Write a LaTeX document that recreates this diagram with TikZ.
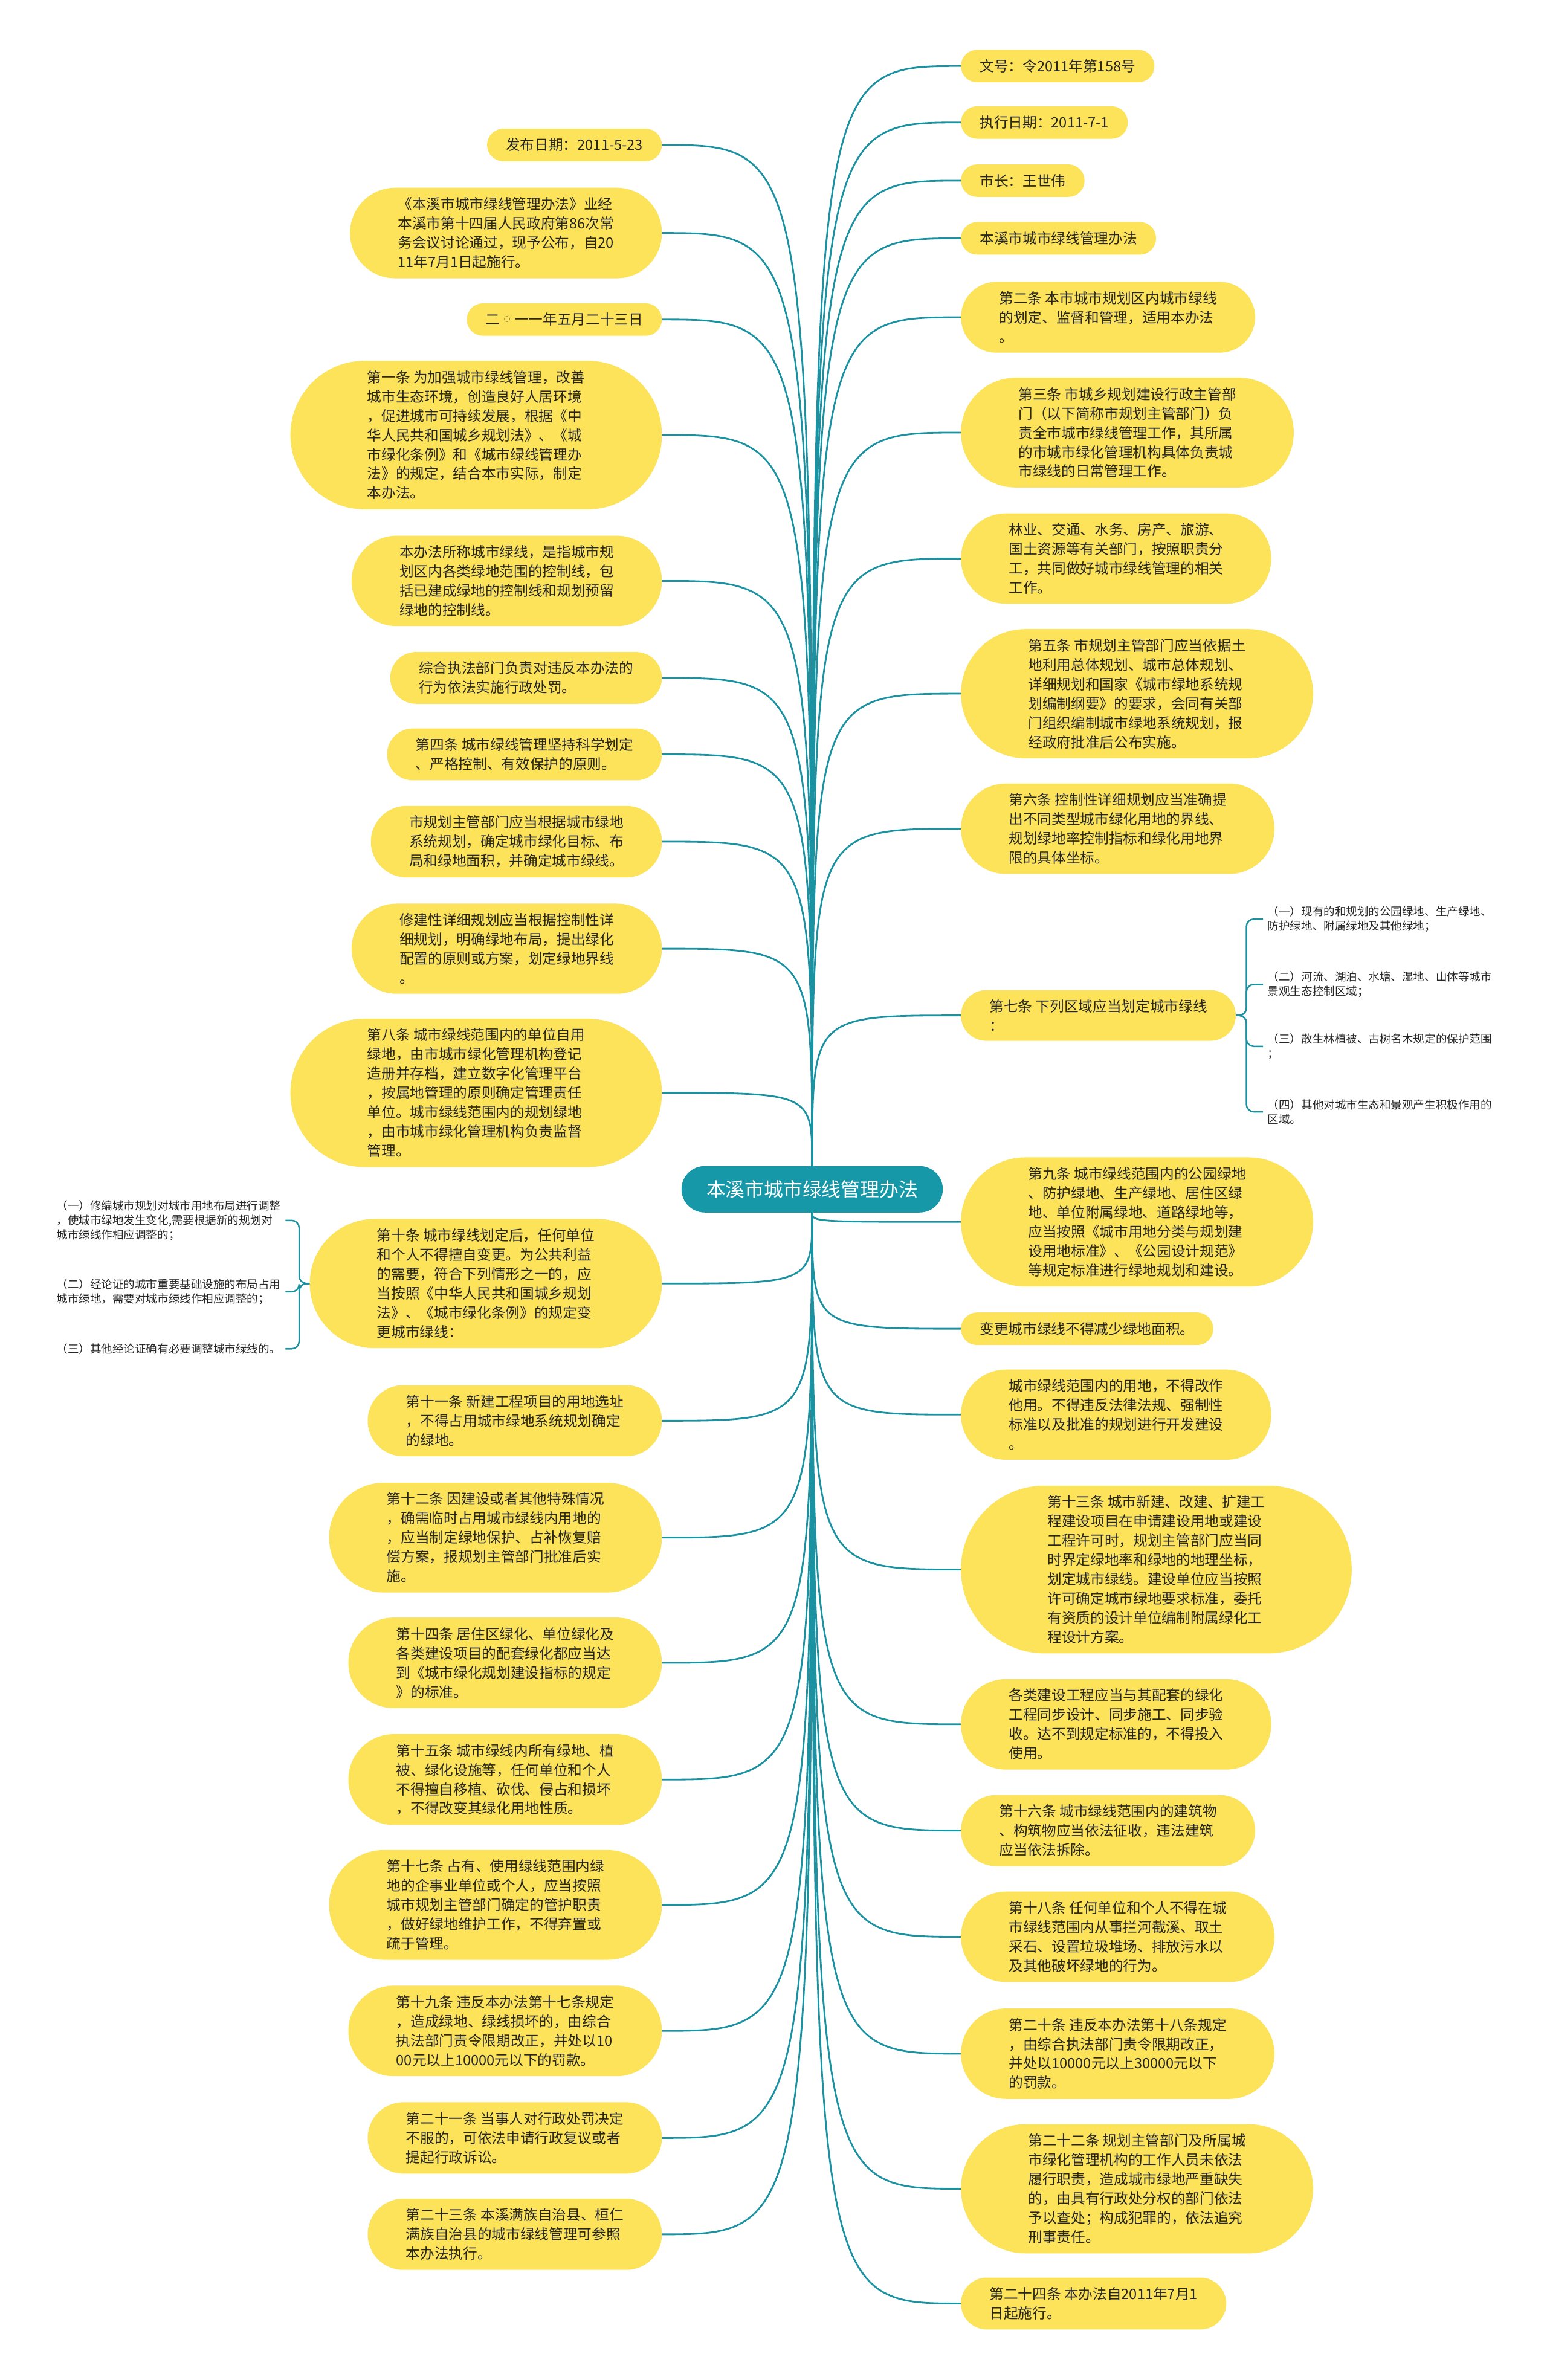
\documentclass[tikz,border=0pt]{standalone}
\usepackage{fontspec}
\setmainfont{Noto Sans CJK SC}
\usetikzlibrary{backgrounds,calc}
\definecolor{ylw}{HTML}{FCE35A}
\definecolor{rootC}{HTML}{1798A8}
\definecolor{lineC}{HTML}{1A92A2}
\definecolor{txt}{HTML}{262626}
\newcommand{\smallzero}{\makebox[6.7pt]{\raisebox{1.4pt}{\fontsize{3pt}{4pt}\selectfont ○}}}
\begin{document}
\begin{tikzpicture}[x=0.025cm,y=-0.025cm,
 leaf/.style={shape=rectangle, draw=none, text=txt, align=left, inner ysep=4.3pt, inner xsep={4.525pt*#1+4.125pt}, font=\fontsize{6.7pt}{9.05pt}\selectfont},
 lft/.style={leaf=#1, anchor=east},
 rgt/.style={leaf=#1, anchor=west},
 rootnode/.style={shape=rectangle, text=white, inner xsep=11.5pt, inner ysep=6.5pt, font=\fontsize{9pt}{11pt}\selectfont},
 sub/.style={align=left, text=txt, inner xsep=2pt, inner ysep=1pt, font=\fontsize{5.25pt}{6.85pt}\selectfont},
 conn/.style={draw=lineC, line width=0.8pt},
 bconn/.style={draw=lineC, line width=0.7pt, rounded corners=3.5pt}]
\useasboundingbox (0,0) rectangle (1019,1568);

\node[rootnode] (root) at (535,783.5) {本溪市城市绿线管理办法};

% right side
\node[rgt=1] (r1) at (633,43.5) {文号：令2011年第158号};
\node[rgt=1] (r2) at (633,80.7) {执行日期：2011-7-1};
\node[rgt=1] (r3) at (633,119) {市长：王世伟};
\node[rgt=1] (r4) at (633,157) {本溪市城市绿线管理办法};
\node[rgt=3] (r5) at (633,209) {第二条 本市城市规划区内城市绿线\\的划定、监督和管理，适用本办法\\。};
\node[rgt=5] (r6) at (633,285) {第三条 市城乡规划建设行政主管部\\门（以下简称市规划主管部门）负\\责全市城市绿线管理工作，其所属\\的市城市绿化管理机构具体负责城\\市绿线的日常管理工作。};
\node[rgt=4] (r7) at (633,368) {林业、交通、水务、房产、旅游、\\国土资源等有关部门，按照职责分\\工，共同做好城市绿线管理的相关\\工作。};
\node[rgt=6] (r8) at (633,457) {第五条 市规划主管部门应当依据土\\地利用总体规划、城市总体规划、\\详细规划和国家《城市绿地系统规\\划编制纲要》的要求，会同有关部\\门组织编制城市绿地系统规划，报\\经政府批准后公布实施。};
\node[rgt=4] (r9) at (633,546) {第六条 控制性详细规划应当准确提\\出不同类型城市绿化用地的界线、\\规划绿地率控制指标和绿化用地界\\限的具体坐标。};
\node[rgt=2] (r10) at (633,669) {第七条 下列区域应当划定城市绿线\\：};
\node[rgt=6] (r11) at (633,805) {第九条 城市绿线范围内的公园绿地\\、防护绿地、生产绿地、居住区绿\\地、单位附属绿地、道路绿地等，\\应当按照《城市用地分类与规划建\\设用地标准》、《公园设计规范》\\等规定标准进行绿地规划和建设。};
\node[rgt=1] (r12) at (633,875.4) {变更城市绿线不得减少绿地面积。};
\node[rgt=4] (r13) at (633,932) {城市绿线范围内的用地，不得改作\\他用。不得违反法律法规、强制性\\标准以及批准的规划进行开发建设\\。};
\node[rgt=8] (r14) at (633,1034) {第十三条 城市新建、改建、扩建工\\程建设项目在申请建设用地或建设\\工程许可时，规划主管部门应当同\\时界定绿地率和绿地的地理坐标，\\划定城市绿线。建设单位应当按照\\许可确定城市绿地要求标准，委托\\有资质的设计单位编制附属绿化工\\程设计方案。};
\node[rgt=4] (r15) at (633,1136) {各类建设工程应当与其配套的绿化\\工程同步设计、同步施工、同步验\\收。达不到规定标准的，不得投入\\使用。};
\node[rgt=3] (r16) at (633,1206) {第十六条 城市绿线范围内的建筑物\\、构筑物应当依法征收，违法建筑\\应当依法拆除。};
\node[rgt=4] (r17) at (633,1276) {第十八条 任何单位和个人不得在城\\市绿线范围内从事拦河截溪、取土\\采石、设置垃圾堆场、排放污水以\\及其他破坏绿地的行为。};
\node[rgt=4] (r18) at (633,1353) {第二十条 违反本办法第十八条规定\\，由综合执法部门责令限期改正，\\并处以10000元以上30000元以下\\的罚款。};
\node[rgt=6] (r19) at (633,1442) {第二十二条 规划主管部门及所属城\\市绿化管理机构的工作人员未依法\\履行职责，造成城市绿地严重缺失\\的，由具有行政处分权的部门依法\\予以查处；构成犯罪的，依法追究\\刑事责任。};
\node[rgt=2] (r20) at (633,1517.6) {第二十四条 本办法自2011年7月1\\日起施行。};

% children of r10
\node[sub, anchor=west] (r10a) at (832,605.5) {（一）现有的和规划的公园绿地、生产绿地、\\防护绿地、附属绿地及其他绿地；};
\node[sub, anchor=west] (r10b) at (832,648.6) {（二）河流、湖泊、水塘、湿地、山体等城市\\景观生态控制区域；};
\node[sub, anchor=west] (r10c) at (832,689.4) {（三）散生林植被、古树名木规定的保护范围\\；};
\node[sub, anchor=west] (r10d) at (832,732.5) {（四）其他对城市生态和景观产生积极作用的\\区域。};

% left side
\node[lft=1] (l1) at (436,95.5) {发布日期：2011-5-23};
\node[lft=4] (l2) at (436,153.5) {《本溪市城市绿线管理办法》业经\\本溪市第十四届人民政府第86次常\\务会议讨论通过，现予公布，自20\\11年7月1日起施行。};
\node[lft=1] (l3) at (436,210.5) {二\smallzero 一一年五月二十三日};
\node[lft=7] (l4) at (436,286.6) {第一条 为加强城市绿线管理，改善\\城市生态环境，创造良好人居环境\\，促进城市可持续发展，根据《中\\华人民共和国城乡规划法》、《城\\市绿化条例》和《城市绿线管理办\\法》的规定，结合本市实际，制定\\本办法。};
\node[lft=4] (l5) at (436,382.7) {本办法所称城市绿线，是指城市规\\划区内各类绿地范围的控制线，包\\括已建成绿地的控制线和规划预留\\绿地的控制线。};
\node[lft=2] (l6) at (436,446.6) {综合执法部门负责对违反本办法的\\行为依法实施行政处罚。};
\node[lft=2] (l7) at (436,497) {第四条 城市绿线管理坚持科学划定\\、严格控制、有效保护的原则。};
\node[lft=3] (l8) at (436,554.5) {市规划主管部门应当根据城市绿地\\系统规划，确定城市绿化目标、布\\局和绿地面积，并确定城市绿线。};
\node[lft=4] (l9) at (436,625) {修建性详细规划应当根据控制性详\\细规划，明确绿地布局，提出绿化\\配置的原则或方案，划定绿地界线\\。};
\node[lft=7] (l10) at (436,720) {第八条 城市绿线范围内的单位自用\\绿地，由市城市绿化管理机构登记\\造册并存档，建立数字化管理平台\\，按属地管理的原则确定管理责任\\单位。城市绿线范围内的规划绿地\\，由市城市绿化管理机构负责监督\\管理。};
\node[lft=6] (l11) at (436,845.6) {第十条 城市绿线划定后，任何单位\\和个人不得擅自变更。为公共利益\\的需要，符合下列情形之一的，应\\当按照《中华人民共和国城乡规划\\法》、《城市绿化条例》的规定变\\更城市绿线：};
\node[lft=3] (l12) at (436,936) {第十一条 新建工程项目的用地选址\\，不得占用城市绿地系统规划确定\\的绿地。};
\node[lft=5] (l13) at (436,1013) {第十二条 因建设或者其他特殊情况\\，确需临时占用城市绿线内用地的\\，应当制定绿地保护、占补恢复赔\\偿方案，报规划主管部门批准后实\\施。};
\node[lft=4] (l14) at (436,1095.5) {第十四条 居住区绿化、单位绿化及\\各类建设项目的配套绿化都应当达\\到《城市绿化规划建设指标的规定\\》的标准。};
\node[lft=4] (l15) at (436,1172.4) {第十五条 城市绿线内所有绿地、植\\被、绿化设施等，任何单位和个人\\不得擅自移植、砍伐、侵占和损坏\\，不得改变其绿化用地性质。};
\node[lft=5] (l16) at (436,1255) {第十七条 占有、使用绿线范围内绿\\地的企事业单位或个人，应当按照\\城市规划主管部门确定的管护职责\\，做好绿地维护工作，不得弃置或\\疏于管理。};
\node[lft=4] (l17) at (436,1338) {第十九条 违反本办法第十七条规定\\，造成绿地、绿线损坏的，由综合\\执法部门责令限期改正，并处以10\\00元以上10000元以下的罚款。};
\node[lft=3] (l18) at (436,1408.5) {第二十一条 当事人对行政处罚决定\\不服的，可依法申请行政复议或者\\提起行政诉讼。};
\node[lft=3] (l19) at (436,1472) {第二十三条 本溪满族自治县、桓仁\\满族自治县的城市绿线管理可参照\\本办法执行。};

% children of l11
\node[sub, anchor=east] (l11a) at (188,804) {（一）修编城市规划对城市用地布局进行调整\\，使城市绿地发生变化,需要根据新的规划对\\城市绿线作相应调整的；};
\node[sub, anchor=east] (l11b) at (188,851) {（二）经论证的城市重要基础设施的布局占用\\城市绿地，需要对城市绿线作相应调整的；};
\node[sub, anchor=east] (l11c) at (188,888.6) {（三）其他经论证确有必要调整城市绿线的。};

\begin{scope}[on background layer]
\fill[white] (0,0) rectangle (1019,1568);
\foreach \nd in {r1,r2,r3,r4,r5,r6,r7,r8,r9,r10}
  \draw[conn] (root.north) .. controls (root.north |- \nd.west) .. (\nd.west);
\foreach \nd in {r11,r12,r13,r14,r15,r16,r17,r18,r19,r20}
  \draw[conn] (root.south) .. controls (root.south |- \nd.west) .. (\nd.west);
\foreach \nd in {l1,l2,l3,l4,l5,l6,l7,l8,l9,l10}
  \draw[conn] (root.north) .. controls (root.north |- \nd.east) .. (\nd.east);
\foreach \nd in {l11,l12,l13,l14,l15,l16,l17,l18,l19}
  \draw[conn] (root.south) .. controls (root.south |- \nd.east) .. (\nd.east);
\foreach \nd in {r10a,r10b,r10c,r10d}
  \draw[bconn] (r10.east) -- ++(7,0) |- (\nd.west);
\foreach \nd in {l11a,l11b,l11c}
  \draw[bconn] (l11.west) -- ++(-7,0) |- (\nd.east);
% stadium shapes
\foreach \nd in {r1,r2,r3,r4,r5,r6,r7,r8,r9,r10,r11,r12,r13,r14,r15,r16,r17,r18,r19,r20,l1,l2,l3,l4,l5,l6,l7,l8,l9,l10,l11,l12,l13,l14,l15,l16,l17,l18,l19}
  \fill[ylw] let \p1=(\nd.south west), \p2=(\nd.north east), \n1={0.499*(\y2-\y1)} in [rounded corners=\n1] (\p1) rectangle (\p2);
\fill[rootC] let \p1=(root.south west), \p2=(root.north east), \n1={0.499*(\y2-\y1)} in [rounded corners=\n1] (\p1) rectangle (\p2);
\end{scope}
\end{tikzpicture}
\end{document}
